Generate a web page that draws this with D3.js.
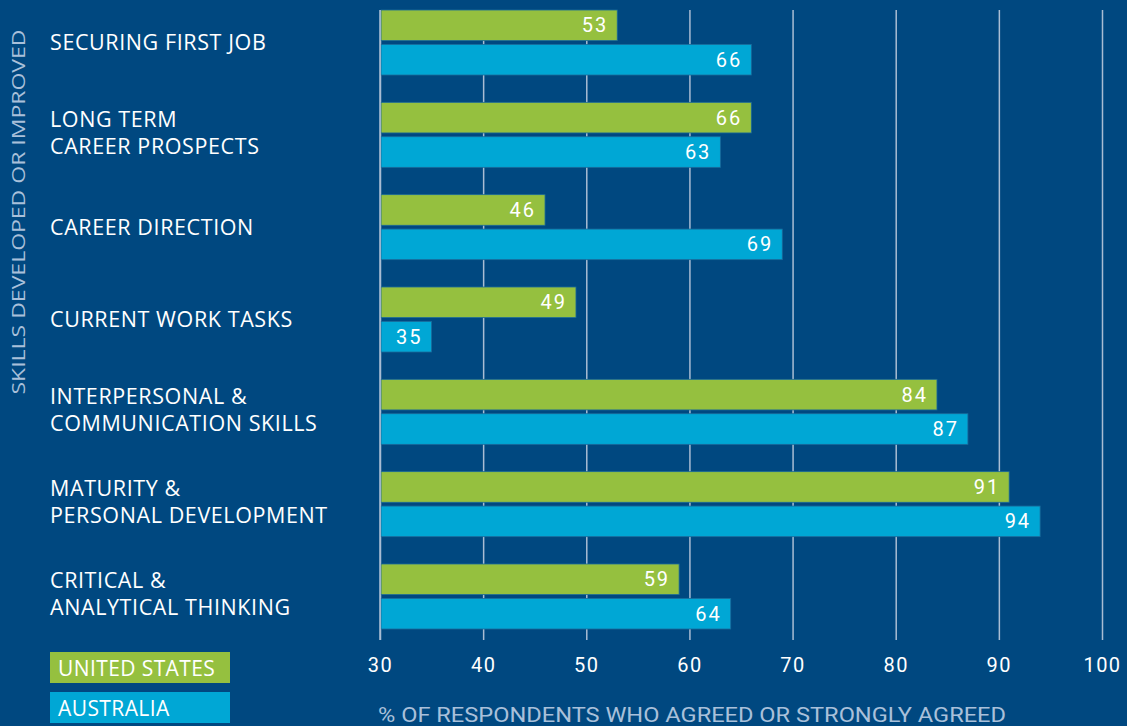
<!DOCTYPE html>
<html>
<head>
<meta charset="utf-8">
<script src="https://cdn.jsdelivr.net/npm/d3@7"></script>
<style>
  body { margin: 0; background: #004880; }
  svg { display: block; }
  text { font-family: "Open Sans", Roboto, sans-serif; }
</style>
</head>
<body>
<svg></svg>
<script>
let categories = [
  'SECURING FIRST JOB',
  'LONG TERM\nCAREER PROSPECTS',
  'CAREER DIRECTION',
  'CURRENT WORK TASKS',
  'INTERPERSONAL &\nCOMMUNICATION SKILLS',
  'MATURITY &\nPERSONAL DEVELOPMENT',
  'CRITICAL &\nANALYTICAL THINKING'
]
let unitedStates = [53, 66, 46, 49, 84, 91, 59]
let australia = [66, 63, 69, 35, 87, 94, 64]
let seriesNames = ['UNITED STATES', 'AUSTRALIA']
let tickValues = [30, 40, 50, 60, 70, 80, 90, 100]

let width = 1127
let height = 726
let colors = ['#95c03f', '#00a7d5']

let svg = d3.select('svg')
            .attr('width', width)
            .attr('height', height)

svg.append('rect')
    .attr('width', width)
    .attr('height', height)
    .attr('fill', '#004880')

let x = d3.scaleLinear()
          .domain([30, 100])
          .range([380, 1102])

let y = d3.scaleBand()
          .domain(categories)
          .range([10, 629])
          .paddingInner(0.296)

let ySeries = d3.scaleBand()
          .domain(seriesNames)
          .range([0, y.bandwidth()])
          .paddingInner(0.11)

// gridlines + ticks
let axis = d3.axisBottom(x)
             .tickValues(tickValues)
             .tickSize(-(640 - 10))
             .tickPadding(14)

let gAxis = svg.append('g')
    .attr('transform', 'translate(0,640)')
    .call(axis)

gAxis.select('.domain').remove()
gAxis.selectAll('line')
    .attr('stroke', '#a9bdd3')
    .attr('stroke-width', 1.5)
gAxis.selectAll('text')
    .attr('fill', '#ffffff')
    .attr('font-size', 20)
    .attr('letter-spacing', 1.5)
    .style('font-family', 'Roboto, sans-serif')
    .attr('dy', '0.9em')

// bars
let rows = categories.map((c, i) => ({
  category: c,
  values: [unitedStates[i], australia[i]]
}))

let group = svg.selectAll('g.row')
    .data(rows)
    .enter()
    .append('g')
    .attr('class', 'row')
    .attr('transform', d => `translate(0,${y(d.category)})`)

let bar = group.selectAll('g.bar')
    .data(d => d.values.map((v, i) => ({series: seriesNames[i], value: v, i: i})))
    .enter()
    .append('g')
    .attr('class', 'bar')

bar.append('rect')
    .attr('x', x(30) + 1)
    .attr('y', d => ySeries(d.series))
    .attr('width', d => x(d.value) - x(30) - 1)
    .attr('height', ySeries.bandwidth())
    .attr('fill', d => colors[d.i])
    .attr('stroke', '#1a6a9a')
    .attr('stroke-width', 0.8)

bar.append('text')
    .attr('x', d => x(d.value) - 9)
    .attr('y', d => ySeries(d.series) + ySeries.bandwidth() / 2 + 7)
    .attr('text-anchor', 'end')
    .attr('fill', '#ffffff')
    .attr('font-size', 20)
    .attr('letter-spacing', 2)
    .style('font-family', 'Roboto, sans-serif')
    .text(d => d.value)

// category labels
group.each(function(d) {
  let lines = d.category.split('\n')
  let cy = y.bandwidth() / 2
  let t = d3.select(this).append('text')
      .attr('fill', '#ffffff')
      .attr('font-size', 21.5)
      .attr('letter-spacing', 0.6)
  lines.forEach((line, i) => {
    let off = lines.length === 1 ? 7.5 : 5.5 + (i - 0.5) * 27
    t.append('tspan')
        .attr('x', 50)
        .attr('y', cy + off)
        .text(line)
  })
})

// y axis line
svg.append('line')
    .attr('x1', x(30))
    .attr('x2', x(30))
    .attr('y1', 10)
    .attr('y2', 640)
    .attr('stroke', '#a9bdd3')
    .attr('stroke-width', 1.5)

// axis titles
svg.append('text')
    .attr('x', 378)
    .attr('y', 722)
    .attr('fill', '#a9c0da')
    .attr('font-size', 21)
    .attr('textLength', 628)
    .attr('lengthAdjust', 'spacingAndGlyphs')
    .style('font-family', 'Roboto, sans-serif')
    .text('% OF RESPONDENTS WHO AGREED OR STRONGLY AGREED')

svg.append('text')
    .attr('transform', 'translate(25,212) rotate(-90)')
    .attr('text-anchor', 'middle')
    .attr('fill', '#a9c0da')
    .attr('font-size', 19)
    .attr('textLength', 365)
    .attr('lengthAdjust', 'spacingAndGlyphs')
    .text('SKILLS DEVELOPED OR IMPROVED')

// legend
let legend = svg.selectAll('g.legend')
    .data(seriesNames)
    .enter()
    .append('g')
    .attr('class', 'legend')
    .attr('transform', (d, i) => `translate(50,${652 + i * 40})`)

legend.append('rect')
    .attr('width', 180)
    .attr('height', 31)
    .attr('fill', (d, i) => colors[i])

legend.append('text')
    .attr('x', 8)
    .attr('y', 24)
    .attr('fill', '#ffffff')
    .attr('font-size', 21)
    .attr('letter-spacing', 0.4)
    .text(d => d)
</script>
</body>
</html>
